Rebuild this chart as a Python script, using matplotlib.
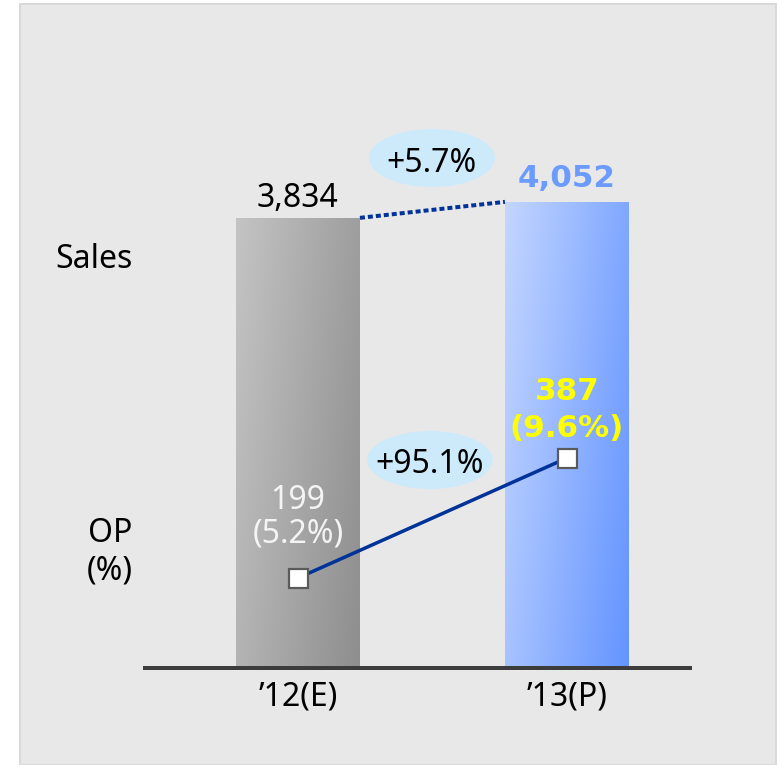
import numpy as np
import matplotlib
matplotlib.use("Agg")
import matplotlib.pyplot as plt
from matplotlib.patches import Rectangle, Ellipse

# ---- data ----
periods = ["\u201912(E)", "\u201913(P)"]
sales = [3834, 4052]
sales_labels = ["3,834", "4,052"]
op = [199, 387]
op_margin = ["(5.2%)", "(9.6%)"]
sales_growth = "+5.7%"
op_growth = "+95.1%"

W, H = 777, 765
DPI = 100
PT = 72.0 / DPI  # points per pixel

REG = ["Noto Sans", "DejaVu Sans"]
BOLD = ["DejaVu Sans"]
FS = 32 * PT
FSB = 31 * PT


def fx(px):
    return px / W


def fy(py):
    return 1 - py / H


fig = plt.figure(figsize=(W / DPI, H / DPI), dpi=DPI, facecolor="white")

# grey panel behind the chart
fig.patches.append(Rectangle((fx(20), fy(765)), fx(776) - fx(20), fy(4) - fy(765),
                             transform=fig.transFigure, facecolor="#e8e8e8",
                             edgecolor="#d9d9d9", linewidth=2 * PT, zorder=-5))

ax = fig.add_axes([fx(143), fy(668), fx(692) - fx(143), fy(100) - fy(668)])
ax.set_zorder(1)
ax.set_facecolor("none")
for s in ["top", "right", "left"]:
    ax.spines[s].set_visible(False)
ax.spines["bottom"].set_color("#3c3c3c")
ax.spines["bottom"].set_linewidth(4 * PT)
ax.spines["bottom"].set_capstyle("butt")

axis_floor, axis_ceiling = -2300, 5440
x = np.arange(len(periods))
ax.set_yticks([])
ax.set_xticks(x, periods)
ax.tick_params(axis="x", length=0, pad=13 * PT)
for lab in ax.get_xticklabels():
    lab.set_fontfamily(REG)
    lab.set_fontsize(FS)
    lab.set_color("black")

bar_w = 124 / 269
bars = ax.bar(x, [v - axis_floor for v in sales], bottom=axis_floor, width=bar_w,
              color="none", edgecolor="none", zorder=2)

# diagonal gradient fills for the bars
grad_colors = [("#c4c4c4", "#8e8e8e"), ("#c4d6ff", "#6394ff")]
for b, (c0, c1) in zip(bars, grad_colors):
    n = 200
    u = np.linspace(0, 1, n)[None, :]
    v = np.linspace(0, 1, n)[:, None]
    t = 0.7 * u + 0.3 * v
    a = np.array(matplotlib.colors.to_rgb(c0))
    z = np.array(matplotlib.colors.to_rgb(c1))
    img = a[None, None, :] * (1 - t[..., None]) + z[None, None, :] * t[..., None]
    x0, y0 = b.get_x(), b.get_y()
    im = ax.imshow(img, extent=[x0, x0 + b.get_width(), y0, y0 + b.get_height()],
                   origin="upper", aspect="auto", zorder=2)
    im.set_clip_path(b)
ax.set_xlim(-0.576, 1.465)
ax.set_ylim(axis_floor, axis_ceiling)

# dotted connector between the sales bar tops
ax.plot([x[0] + bar_w / 2, x[1] - bar_w / 2], sales, color="#003399",
        linewidth=4 * PT, linestyle=(0, (1.25, 0.75)), dash_capstyle="butt", zorder=3)

# sales value labels
ax.annotate(sales_labels[0], (x[0], sales[0]), xytext=(0, 11 * PT),
            textcoords="offset points", ha="center", va="baseline",
            fontsize=FS, family=REG, color="black", zorder=5)
ax.annotate(sales_labels[1], (x[1], sales[1]), xytext=(0, 15 * PT),
            textcoords="offset points", ha="center", va="baseline",
            fontsize=FSB, family=BOLD, fontweight="bold", color="#6b9bff", zorder=5)

# operating profit on its own scale
ax2 = ax.twinx()
ax2.set_ylim(58, 948)
ax2.set_yticks([])
for s in ax2.spines.values():
    s.set_visible(False)
ax2.plot(x, op, color="#003399", linewidth=3.5 * PT, marker="s",
         markersize=19 * PT, markerfacecolor="white", markeredgecolor="#5a5a5a",
         markeredgewidth=2.2 * PT, zorder=4)

ax2.annotate(str(op[0]), (x[0], op[0]), xytext=(0, 69 * PT), textcoords="offset points",
             ha="center", va="baseline", fontsize=FS, family=REG, color="#f4f4f4")
ax2.annotate(op_margin[0], (x[0], op[0]), xytext=(0, 36 * PT), textcoords="offset points",
             ha="center", va="baseline", fontsize=FS, family=REG, color="#f4f4f4")
ax2.annotate(str(op[1]), (x[1], op[1]), xytext=(0, 58 * PT), textcoords="offset points",
             ha="center", va="baseline", fontsize=FSB, family=BOLD,
             fontweight="bold", color="#ffff00")
ax2.annotate(op_margin[1], (x[1], op[1]), xytext=(0, 21 * PT), textcoords="offset points",
             ha="center", va="baseline", fontsize=FSB, family=BOLD,
             fontweight="bold", color="#ffff00")

# growth badges
for (cx, cy, base), txt in zip([(432, 158, 172), (430, 460, 473)], [sales_growth, op_growth]):
    fig.patches.append(Ellipse((fx(cx), fy(cy)), fx(126), 58 / H,
                               transform=fig.transFigure, facecolor="#cdeafb",
                               edgecolor="none", zorder=3))
    fig.text(fx(cx), fy(base), txt, ha="center", va="baseline", fontsize=FS,
             family=REG, color="black", zorder=6)

# row captions
fig.text(fx(94), fy(268), "Sales", ha="center", va="baseline", fontsize=FS,
         family=REG, color="black")
fig.text(fx(110), fy(542), "OP", ha="center", va="baseline", fontsize=FS,
         family=REG, color="black")
fig.text(fx(110), fy(580), "(%)", ha="center", va="baseline", fontsize=FS,
         family=REG, color="black")

fig.savefig("out.png", dpi=DPI, facecolor="white")
